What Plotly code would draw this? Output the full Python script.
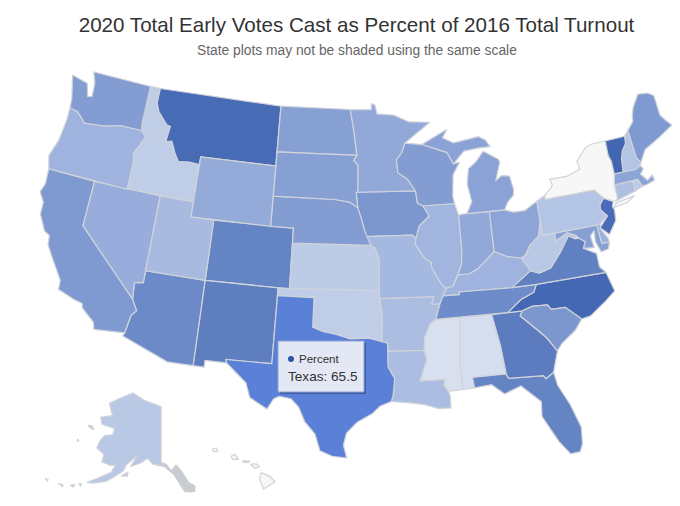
import math

import plotly.graph_objects as go
from plotly.colors import sample_colorscale

states = ['Alabama', 'Alaska', 'Arizona', 'Arkansas', 'California', 'Colorado', 'Connecticut', 'Delaware',
          'District of Columbia', 'Florida', 'Georgia', 'Hawaii', 'Idaho', 'Illinois', 'Indiana', 'Iowa', 'Kansas',
          'Kentucky', 'Louisiana', 'Maine', 'Maryland', 'Massachusetts', 'Michigan', 'Minnesota', 'Mississippi',
          'Missouri', 'Montana', 'Nebraska', 'Nevada', 'New Hampshire', 'New Jersey', 'New Mexico', 'New York',
          'North Carolina', 'North Dakota', 'Ohio', 'Oklahoma', 'Oregon', 'Pennsylvania', 'Rhode Island',
          'South Carolina', 'South Dakota', 'Tennessee', 'Texas', 'Utah', 'Vermont', 'Virginia', 'Washington',
          'West Virginia', 'Wisconsin', 'Wyoming']
percent = [17, 28, 52, 33, 46, 54, 32, 38, 40, 54, 58, 9, 26, 36, 41, 47, 27,
           37, 33, 46, 44, 42, 43, 41, 16, 35, 68, 45, 39, 30, 67, 57, 9, 70,
           44, 42, 26, 37, 30, 27, 47, 44, 51, 65.5, 34, 71, 56, 45, 28, 45, 40]

vmin, vmax = 9, 72
stops = [(9, 'rgb(247,247,247)'), (16, 'rgb(216,224,239)'), (27, 'rgb(188,203,230)'), (37, 'rgb(159,179,222)'),
         (46, 'rgb(127,154,208)'), (54, 'rgb(100,132,196)'), (60, 'rgb(88,120,188)'), (65.5, 'rgb(91,128,216)'),
         (67, 'rgb(74,108,184)'), (72, 'rgb(64,101,176)')]
colorscale = [[(v - vmin) / (vmax - vmin), c] for v, c in stops]

# state outlines in lon/lat, coarse. plotly can't fetch its topojson offline
outlines = {
    'Washington': [[(-124.7, 48.4), (-123.1, 48.15), (-122.7, 47.3), (-122.3, 47.4), (-122.4, 48.3), (-122.8, 49), (-117.03, 49), (-117.04, 46.42), (-116.92, 46), (-118.98, 46), (-119.3, 45.93), (-120.5, 45.7), (-121.2, 45.65), (-122.3, 45.55), (-122.8, 45.9), (-123.2, 46.15), (-124, 46.27), (-124.1, 46.9)]],
    'Oregon': [[(-124, 46.27), (-123.2, 46.15), (-122.8, 45.9), (-122.3, 45.55), (-121.2, 45.65), (-120.5, 45.7), (-119.3, 45.93), (-118.98, 46), (-116.92, 46), (-116.46, 45.6), (-116.85, 44.95), (-117.2, 44.4), (-117.03, 43.8), (-117.03, 42), (-124.21, 42), (-124.55, 42.84), (-124.1, 44), (-123.95, 45.5)]],
    'California': [[(-124.21, 42), (-120, 42), (-120, 39), (-114.63, 35), (-114.14, 34.3), (-114.5, 33.95), (-114.72, 32.72), (-117.12, 32.53), (-117.3, 33), (-118.4, 33.75), (-118.5, 34.03), (-119.2, 34.15), (-120.6, 34.55), (-120.65, 35.15), (-121.9, 36.6), (-122.4, 37.2), (-122.5, 37.8), (-123, 38), (-123.75, 39), (-123.8, 39.8), (-124.35, 40.4), (-124.1, 41)]],
    'Nevada': [[(-120, 42), (-114.04, 42), (-114.04, 36.2), (-114.75, 36.1), (-114.63, 35), (-120, 39)]],
    'Idaho': [[(-117.03, 49), (-116.05, 49), (-116.05, 48), (-115.7, 47.45), (-114.7, 46.7), (-114.35, 46.65), (-114.5, 45.6), (-113.95, 45.7), (-113.45, 44.95), (-113, 44.45), (-112, 44.55), (-111.05, 44.48), (-111.05, 42), (-117.03, 42), (-117.03, 43.8), (-117.2, 44.4), (-116.85, 44.95), (-116.46, 45.6), (-116.92, 46), (-117.04, 46.42)]],
    'Montana': [[(-116.05, 49), (-104.05, 49), (-104.05, 45), (-111.05, 45), (-111.05, 44.48), (-112, 44.55), (-113, 44.45), (-113.45, 44.95), (-113.95, 45.7), (-114.5, 45.6), (-114.35, 46.65), (-114.7, 46.7), (-115.7, 47.45), (-116.05, 48)]],
    'Wyoming': [[(-111.05, 45), (-104.05, 45), (-104.05, 41), (-111.05, 41)]],
    'Utah': [[(-114.04, 42), (-111.05, 42), (-111.05, 41), (-109.05, 41), (-109.05, 37), (-114.04, 37)]],
    'Colorado': [[(-109.05, 41), (-102.05, 41), (-102.05, 37), (-109.05, 37)]],
    'Arizona': [[(-114.04, 37), (-109.05, 37), (-109.05, 31.33), (-111.07, 31.33), (-114.81, 32.5), (-114.72, 32.72), (-114.5, 33.95), (-114.14, 34.3), (-114.63, 35), (-114.75, 36.1), (-114.04, 36.2)]],
    'New Mexico': [[(-109.05, 37), (-103, 37), (-103.04, 32), (-106.62, 32), (-106.53, 31.78), (-108.21, 31.78), (-108.21, 31.33), (-109.05, 31.33)]],
    'North Dakota': [[(-104.05, 49), (-97.23, 49), (-96.85, 47.5), (-96.56, 45.94), (-104.05, 45.94)]],
    'South Dakota': [[(-104.05, 45.94), (-96.56, 45.94), (-96.85, 45.6), (-96.45, 45.3), (-96.45, 43.5), (-96.6, 43.5), (-96.44, 42.49), (-97.2, 42.85), (-98.5, 43), (-104.05, 43)]],
    'Nebraska': [[(-104.05, 43), (-98.5, 43), (-97.2, 42.85), (-96.44, 42.49), (-96.1, 41.7), (-95.85, 41), (-95.31, 40), (-102.05, 40), (-102.05, 41), (-104.05, 41)]],
    'Kansas': [[(-102.05, 40), (-95.31, 40), (-94.9, 39.8), (-94.61, 39.11), (-94.62, 37), (-102.05, 37)]],
    'Oklahoma': [[(-103, 37), (-94.62, 37), (-94.62, 36.5), (-94.43, 35.4), (-94.48, 33.64), (-95.5, 33.9), (-97, 33.85), (-98.1, 34.13), (-99.2, 34.3), (-100, 34.56), (-100, 36.5), (-103, 36.5)]],
    'Texas': [[(-106.62, 32), (-103.04, 32), (-103, 36.5), (-100, 36.5), (-100, 34.56), (-99.2, 34.3), (-98.1, 34.13), (-97, 33.85), (-95.5, 33.9), (-94.48, 33.64), (-94.04, 33.55), (-94.04, 32), (-93.55, 31.2), (-93.7, 30.1), (-93.85, 29.7), (-94.7, 29.4), (-95.3, 28.9), (-96.4, 28.35), (-97.2, 27.6), (-97.4, 26.8), (-97.15, 25.95), (-98.2, 26.05), (-99.1, 26.4), (-99.5, 27.5), (-100.3, 28.3), (-100.8, 29.25), (-101.4, 29.77), (-102.3, 29.88), (-102.7, 29.7), (-103.15, 28.98), (-104.5, 29.65), (-104.9, 30.6), (-106, 31.4), (-106.53, 31.78)]],
    'Minnesota': [[(-97.23, 49), (-95.15, 49), (-95.15, 49.38), (-94.8, 49.3), (-94.6, 48.7), (-93, 48.6), (-91.5, 48.1), (-89.5, 48), (-92, 46.7), (-92.3, 46.1), (-92.85, 45.6), (-92.75, 44.75), (-91.9, 44.3), (-91.22, 43.5), (-96.45, 43.5), (-96.45, 45.3), (-96.85, 45.6), (-96.56, 45.94), (-96.85, 47.5)]],
    'Iowa': [[(-96.45, 43.5), (-91.22, 43.5), (-91.1, 42.7), (-90.65, 42.5), (-90.15, 41.8), (-91.05, 41.2), (-91.4, 40.4), (-91.7, 40.6), (-95.77, 40.58), (-95.85, 41), (-96.1, 41.7), (-96.44, 42.49), (-96.6, 43.5)]],
    'Missouri': [[(-95.77, 40.58), (-91.7, 40.6), (-91.4, 40.4), (-91.5, 40), (-90.7, 39), (-90.2, 38.75), (-90.2, 38.4), (-89.5, 37.3), (-89.13, 36.98), (-89.4, 36.5), (-89.7, 36), (-90.37, 36), (-90.15, 36.5), (-94.62, 36.5), (-94.62, 37), (-94.61, 39.11), (-94.9, 39.8), (-95.31, 40)]],
    'Arkansas': [[(-94.62, 36.5), (-90.15, 36.5), (-90.37, 36), (-89.7, 36), (-90.1, 35), (-90.6, 34.7), (-91.1, 33.8), (-91.17, 33), (-94.04, 33.02), (-94.04, 33.55), (-94.48, 33.64), (-94.43, 35.4)]],
    'Louisiana': [[(-94.04, 33.02), (-91.17, 33), (-91, 32.4), (-91.6, 31), (-89.73, 31), (-89.8, 30.6), (-89.5, 30.2), (-89.4, 29.9), (-89.4, 29.1), (-90.3, 29.1), (-91.3, 29.4), (-92.2, 29.55), (-93.85, 29.7), (-93.7, 30.1), (-93.55, 31.2), (-94.04, 32)]],
    'Wisconsin': [[(-92, 46.7), (-90.4, 46.55), (-88.1, 45.9), (-87.6, 45.1), (-87, 45.2), (-87.7, 44.4), (-87.9, 43), (-87.8, 42.5), (-90.65, 42.5), (-91.1, 42.7), (-91.22, 43.5), (-91.9, 44.3), (-92.75, 44.75), (-92.85, 45.6), (-92.3, 46.1)]],
    'Illinois': [[(-90.65, 42.5), (-87.8, 42.5), (-87.53, 41.7), (-87.53, 39.35), (-87.65, 38.5), (-88.05, 37.8), (-88.5, 37.1), (-89.13, 36.98), (-89.5, 37.3), (-90.2, 38.4), (-90.2, 38.75), (-90.7, 39), (-91.5, 40), (-91.4, 40.4), (-91.05, 41.2), (-90.15, 41.8)]],
    'Indiana': [[(-87.53, 41.7), (-87.2, 41.76), (-84.8, 41.73), (-84.8, 39.1), (-85.4, 38.7), (-86.3, 38.1), (-87.1, 37.8), (-88.05, 37.8), (-87.65, 38.5), (-87.53, 39.35)]],
    'Michigan': [[(-86.8, 41.76), (-84.8, 41.73), (-83.45, 41.73), (-83.1, 42.2), (-82.5, 42.6), (-82.4, 43), (-82.6, 43.9), (-83.3, 44), (-83.9, 43.7), (-83.3, 44.9), (-83.4, 45.1), (-84.7, 45.75), (-85.5, 45.1), (-86.25, 44.7), (-86.5, 43.7), (-86.25, 42.5)],
                 [(-90.4, 46.55), (-88.5, 47.2), (-87.9, 47.45), (-88.4, 46.9), (-87.4, 46.5), (-85, 46.75), (-84.4, 46.5), (-84, 46), (-85, 46), (-86.5, 45.9), (-87.6, 45.1), (-88.1, 45.9)]],
    'Ohio': [[(-84.8, 41.73), (-83.45, 41.73), (-82.7, 41.5), (-81.7, 41.5), (-80.52, 41.98), (-80.52, 40.64), (-80.85, 39.7), (-81.7, 39.2), (-82.2, 38.6), (-82.6, 38.45), (-83.7, 38.65), (-84.8, 39.1)]],
    'Kentucky': [[(-89.4, 36.5), (-89.13, 36.98), (-88.5, 37.1), (-88.05, 37.8), (-87.1, 37.8), (-86.3, 38.1), (-85.4, 38.7), (-84.8, 39.1), (-83.7, 38.65), (-82.6, 38.45), (-81.97, 37.54), (-83.68, 36.6), (-88.07, 36.68), (-88.05, 36.5)]],
    'Tennessee': [[(-89.4, 36.5), (-88.05, 36.5), (-88.07, 36.68), (-83.68, 36.6), (-81.68, 36.59), (-82, 36.1), (-83.1, 35.75), (-84.32, 35), (-90.1, 35), (-89.7, 36)]],
    'Mississippi': [[(-90.1, 35), (-88.2, 35), (-88.47, 31.9), (-88.4, 30.25), (-89.5, 30.2), (-89.8, 30.6), (-89.73, 31), (-91.6, 31), (-91, 32.4), (-91.17, 33), (-91.1, 33.8), (-90.6, 34.7)]],
    'Alabama': [[(-88.2, 35), (-85.6, 35), (-85.18, 32.87), (-85, 31), (-87.6, 31), (-87.5, 30.3), (-88.4, 30.25), (-88.47, 31.9)]],
    'Georgia': [[(-85.6, 35), (-83.1, 35), (-83.35, 34.7), (-82, 33.5), (-81.5, 33), (-80.85, 32.05), (-81.4, 30.7), (-82.05, 30.36), (-82.2, 30.57), (-84.86, 30.7), (-85, 31), (-85.18, 32.87)]],
    'Florida': [[(-87.6, 31), (-85, 31), (-84.86, 30.7), (-82.2, 30.57), (-82.05, 30.36), (-81.4, 30.7), (-81.25, 29.8), (-80.55, 28.4), (-80.03, 26.8), (-80.15, 25.7), (-80.4, 25.2), (-81.1, 25.15), (-81.8, 26.1), (-82.2, 26.9), (-82.75, 27.9), (-82.65, 28.9), (-83.4, 29.6), (-84, 30.1), (-85.3, 29.7), (-86.2, 30.4), (-87.5, 30.3)]],
    'South Carolina': [[(-83.35, 34.7), (-83.1, 35), (-82.3, 35.2), (-81.05, 35.15), (-80.8, 34.82), (-79.67, 34.8), (-78.55, 33.86), (-79.2, 33.2), (-80.4, 32.5), (-80.85, 32.05), (-81.5, 33), (-82, 33.5)]],
    'North Carolina': [[(-84.32, 35), (-83.1, 35.75), (-82, 36.1), (-81.68, 36.59), (-75.87, 36.55), (-75.5, 35.25), (-76.5, 34.65), (-77.8, 33.95), (-78.55, 33.86), (-79.67, 34.8), (-80.8, 34.82), (-81.05, 35.15), (-82.3, 35.2), (-83.1, 35)]],
    'Virginia': [[(-83.68, 36.6), (-81.97, 37.54), (-81.3, 37.3), (-80.3, 37.5), (-79.3, 38.4), (-78.35, 39.4), (-77.83, 39.13), (-77.5, 39.1), (-77.05, 38.8), (-77.3, 38.4), (-76.3, 37.9), (-76.3, 37), (-75.87, 36.55), (-81.68, 36.59)]],
    'West Virginia': [[(-82.6, 38.45), (-82.2, 38.6), (-81.7, 39.2), (-80.85, 39.7), (-80.52, 40.64), (-80.52, 39.72), (-79.48, 39.72), (-79.48, 39.2), (-78.4, 39.6), (-77.72, 39.32), (-77.83, 39.13), (-78.35, 39.4), (-79.3, 38.4), (-80.3, 37.5), (-81.3, 37.3), (-81.97, 37.54)]],
    'Maryland': [[(-79.48, 39.72), (-75.79, 39.72), (-75.7, 38.46), (-75.05, 38.45), (-75.25, 38.03), (-75.9, 37.95), (-76.2, 38.7), (-76.1, 39.4), (-76.5, 39.1), (-76.4, 38.3), (-77.3, 38.4), (-77.05, 38.8), (-77.5, 39.1), (-77.72, 39.32), (-78.4, 39.6), (-79.48, 39.2)]],
    'Delaware': [[(-75.79, 39.72), (-75.42, 39.8), (-75.55, 39.45), (-75.1, 38.75), (-75.05, 38.45), (-75.7, 38.46)]],
    'District of Columbia': [[(-77.12, 38.93), (-77.04, 39), (-76.91, 38.89), (-77.04, 38.79)]],
    'Pennsylvania': [[(-80.52, 41.98), (-79.76, 42.27), (-79.76, 42), (-75.35, 42), (-74.7, 41.36), (-75.13, 40.98), (-75.2, 40.68), (-74.72, 40.15), (-75.42, 39.8), (-75.79, 39.72), (-80.52, 39.72)]],
    'New York': [[(-79.76, 42.27), (-79.05, 42.7), (-78.9, 42.9), (-79.05, 43.27), (-77.5, 43.25), (-76.2, 43.55), (-76.3, 44.1), (-75.3, 44.85), (-74.7, 45), (-73.35, 45), (-73.4, 44), (-73.25, 43.6), (-73.27, 42.75), (-73.5, 42.05), (-73.49, 41.2), (-73.65, 41), (-73.92, 41), (-74.7, 41.36), (-75.35, 42), (-79.76, 42)],
                 [(-74, 40.6), (-73.7, 40.87), (-72.6, 40.98), (-72, 41.05), (-72.8, 40.7)]],
    'New Jersey': [[(-74.7, 41.36), (-73.92, 41), (-74.1, 40.7), (-74, 40.45), (-74.1, 39.75), (-74.9, 38.93), (-75.55, 39.5), (-74.72, 40.15), (-75.2, 40.68), (-75.13, 40.98)]],
    'Vermont': [[(-73.35, 45), (-71.5, 45), (-71.6, 44.5), (-72.05, 44.1), (-72.3, 43.6), (-72.46, 42.73), (-73.27, 42.75), (-73.25, 43.6), (-73.4, 44)]],
    'New Hampshire': [[(-71.5, 45), (-71.08, 45.3), (-70.98, 43.4), (-70.7, 43.05), (-70.82, 42.87), (-71.3, 42.7), (-72.46, 42.73), (-72.3, 43.6), (-72.05, 44.1), (-71.6, 44.5)]],
    'Maine': [[(-71.08, 45.3), (-70.4, 45.8), (-70.3, 46.2), (-70, 46.7), (-69.23, 47.46), (-68.3, 47.35), (-67.8, 47.07), (-67.8, 45.7), (-67.45, 45.3), (-67, 44.85), (-68.5, 44.3), (-70, 43.8), (-70.7, 43.05), (-70.98, 43.4)]],
    'Massachusetts': [[(-73.5, 42.05), (-73.27, 42.75), (-72.46, 42.73), (-71.3, 42.7), (-70.82, 42.87), (-70.65, 42.6), (-71, 42.3), (-70.55, 41.8), (-70, 42.05), (-69.95, 41.7), (-70.65, 41.55), (-71.12, 41.5), (-71.38, 42.02), (-71.8, 42.02)]],
    'Rhode Island': [[(-71.8, 42.02), (-71.38, 42.02), (-71.12, 41.5), (-71.85, 41.32)]],
    'Connecticut': [[(-73.5, 42.05), (-71.8, 42.02), (-71.85, 41.32), (-73.65, 41), (-73.49, 41.2)]],
    'Alaska': [[(-141, 69.65), (-141, 60.3), (-139.8, 59.6), (-144, 60), (-146, 60.9), (-148.5, 60), (-151.8, 59.2), (-150, 61.2), (-153.5, 59.3), (-154, 58.3), (-156.5, 57), (-159, 55.8), (-163, 54.8), (-164.7, 54.6), (-162, 55.8), (-158, 57.5), (-157.2, 58.8), (-159, 58.6), (-162, 58.7), (-162, 60), (-165.3, 60.6), (-165, 62), (-164, 63), (-161, 63.6), (-161, 64.7), (-166.5, 64.6), (-168.1, 65.6), (-163.5, 66.6), (-166.7, 68.35), (-163, 69.7), (-156.7, 71.35), (-150, 70.5)],
               [(-154.5, 57.3), (-152.5, 57.5), (-152.4, 58.2), (-154, 57.6)],
               [(-166.9, 53.9), (-166, 54), (-166.1, 53.6)],
               [(-169, 53), (-167.8, 53.5), (-168, 52.9)],
               [(-172.5, 52.3), (-171, 52.5), (-171, 52.2)],
               [(-176.5, 51.9), (-175.5, 52), (-175.5, 51.75)],
               [(-171.7, 63.4), (-170, 63.6), (-168.8, 63.2), (-170.3, 63.2)],
               [(-173, 60.5), (-172.3, 60.4), (-172.8, 60.2)]],
    'Hawaii': [[(-155.9, 20.25), (-155.2, 19.95), (-154.8, 19.5), (-155.7, 18.95), (-156, 19.7)],
               [(-156.7, 20.9), (-156.25, 20.95), (-156, 20.7), (-156.4, 20.6)],
               [(-157.3, 21.2), (-156.75, 21.17), (-156.9, 21.05), (-157.3, 21.08)],
               [(-158.25, 21.55), (-157.95, 21.7), (-157.65, 21.3), (-158.1, 21.3)],
               [(-159.75, 22.1), (-159.4, 22.2), (-159.3, 21.95), (-159.6, 21.9)]],
}
# the panhandle has no fill colour in the source map
panhandle = [(-141, 60.3), (-139, 60), (-137.5, 58.9), (-135.5, 59.8), (-134, 58.8), (-131.8, 56.6), (-130, 55.9), (-130.3, 55), (-131.5, 55), (-133.5, 55.2), (-135.5, 57.2), (-136.6, 58.2), (-139.8, 59.6)]


def albers(lon, lat, lon0, lat0, lat1, lat2):
    lat1, lat2, lat0 = math.radians(lat1), math.radians(lat2), math.radians(lat0)
    n = (math.sin(lat1) + math.sin(lat2)) / 2
    c = math.cos(lat1) ** 2 + 2 * n * math.sin(lat1)
    rho = math.sqrt(c - 2 * n * math.sin(math.radians(lat))) / n
    rho0 = math.sqrt(c - 2 * n * math.sin(lat0)) / n
    theta = n * math.radians(lon - lon0)
    return rho * math.sin(theta), rho0 - rho * math.cos(theta)


# projection and target box (left, right, top, bottom) per map part, axes below are in page pixels
lower48_proj = dict(lon0=-96, lat0=37.5, lat1=29.5, lat2=45.5)
alaska_proj = dict(lon0=-141, lat0=63, lat1=55, lat2=65)
hawaii_proj = dict(lon0=-157, lat0=20.5, lat1=8, lat2=18)
lower48_box = (40, 672, 72, 458)
alaska_box = (45, 195, 393, 492)
hawaii_box = (212, 275, 448, 489)

contiguous = [s for s in states if s not in ('Alaska', 'Hawaii')]


def make_fit(rings, proj, box):
    pts = [albers(lon, lat, **proj) for ring in rings for lon, lat in ring]
    xs, ys = [p[0] for p in pts], [p[1] for p in pts]
    x0, x1, y0, y1 = min(xs), max(xs), min(ys), max(ys)

    def fit(rings_in):
        out_x, out_y = [], []
        for ring in rings_in:
            for lon, lat in ring + ring[:1]:
                x, y = albers(lon, lat, **proj)
                out_x.append(box[0] + (x - x0) / (x1 - x0) * (box[1] - box[0]))
                out_y.append(box[3] - (y - y0) / (y1 - y0) * (box[3] - box[2]))
            out_x.append(None)
            out_y.append(None)
        return out_x, out_y
    return fit


fit_lower48 = make_fit([r for s in contiguous for r in outlines[s]], lower48_proj, lower48_box)
fit_alaska = make_fit(outlines['Alaska'] + [panhandle], alaska_proj, alaska_box)
fit_hawaii = make_fit(outlines['Hawaii'], hawaii_proj, hawaii_box)
fits = {'Alaska': fit_alaska, 'Hawaii': fit_hawaii}

fig = go.Figure()

for state, value in zip(states, percent):
    x, y = fits.get(state, fit_lower48)(outlines[state])
    color = sample_colorscale(colorscale, [(value - vmin) / (vmax - vmin)])[0]
    fig.add_trace(go.Scatter(
        x=x, y=y, mode='lines', fill='toself', fillcolor=color,
        line=dict(color='#d0d3da', width=1.2), name=state, hoveron='fills',
        text=f'{state}: {value}', hoverinfo='text', showlegend=False,
    ))

x, y = fit_alaska([panhandle])
fig.add_trace(go.Scatter(
    x=x, y=y, mode='lines', fill='toself', fillcolor='#c9ccd2',
    line=dict(color='#cccccc', width=1), hoverinfo='skip', showlegend=False,
))

fig.update_layout(
    width=680,
    height=506,
    margin=dict(l=0, r=0, t=0, b=0),
    paper_bgcolor='white',
    plot_bgcolor='white',
    font_family='Liberation Sans',
    # the page has an 8px body margin, so the axes run from 8 to keep page pixels
    xaxis=dict(range=[8, 688], visible=False, fixedrange=True),
    yaxis=dict(range=[514, 8], visible=False, fixedrange=True),
    title=dict(text='2020 Total Early Votes Cast as Percent of 2016 Total Turnout',
               x=(356.5 - 8) / 680, xanchor='center', y=1 - (25 - 8) / 506, yanchor='middle',
               font=dict(size=20.6, color='#333333')),
    shapes=[
        dict(type='rect', x0=280, x1=366, y0=394, y1=343, fillcolor='#3f5ea3', line_width=0),
        dict(type='rect', x0=278, x1=364, y0=392, y1=341, fillcolor='#e4e8f4', line=dict(color='#8fa3cf', width=1)),
        dict(type='circle', x0=288, x1=294, y0=362, y1=356, fillcolor='#2f55a4', line_width=0),
    ],
    annotations=[
        dict(text='State plots may not be shaded using the same scale', x=356.5, y=50, xanchor='center',
             yanchor='middle', showarrow=False, font=dict(size=13.8, color='#666666')),
        dict(text='Percent', x=298, y=359, xanchor='left', yanchor='middle', showarrow=False,
             xshift=-1, font=dict(size=11.5, color='#333333')),
        dict(text='Texas: 65.5', x=287, y=376, xanchor='left', yanchor='middle', showarrow=False,
             xshift=-1, font=dict(size=13.6, color='#333333')),
    ],
)

fig.write_html('out.html')
